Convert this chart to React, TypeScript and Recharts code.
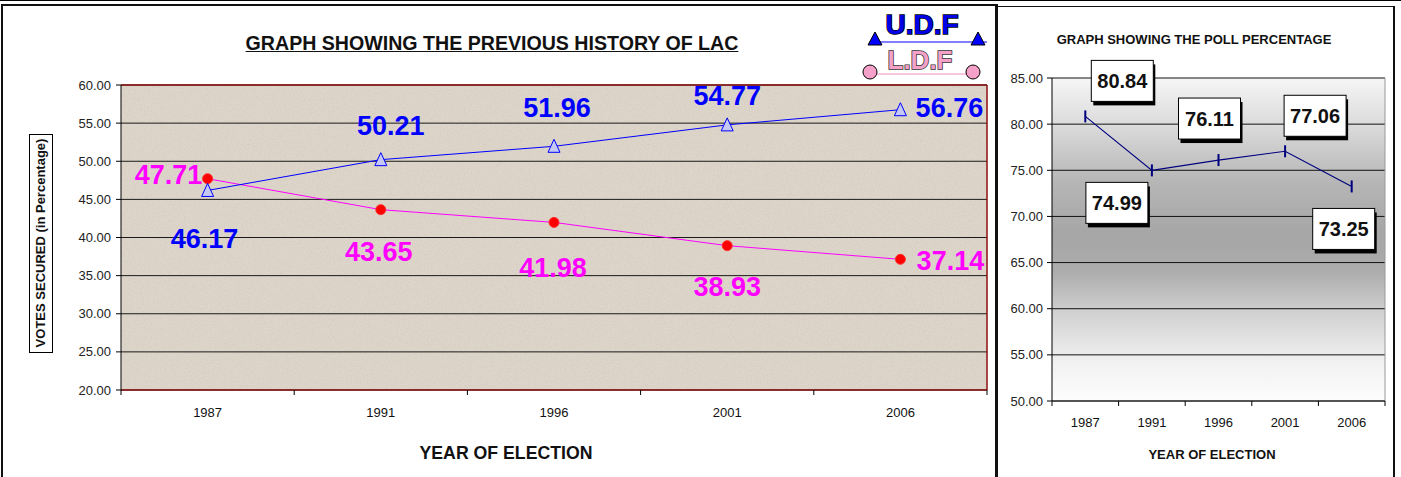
import { LineChart, Line, XAxis, YAxis, CartesianGrid, ReferenceLine } from 'recharts'

const years = ['1987', '1991', '1996', '2001', '2006']
const udfVotes = [46.17, 50.21, 51.96, 54.77, 56.76]
const ldfVotes = [47.71, 43.65, 41.98, 38.93, 37.14]
const pollPercent = [80.84, 74.99, 76.11, 77.06, 73.25]
const voteTicks = [20, 25, 30, 35, 40, 45, 50, 55, 60]
const pollTicks = [50, 55, 60, 65, 70, 75, 80, 85]

const voteData = years.map((year, i) => ({ year, udf: udfVotes[i], ldf: ldfVotes[i] }))
const pollData = years.map((year, i) => ({ year, poll: pollPercent[i] }))

// where each value label sits relative to its point (dx, dy)
const udfLabelOffset = [[-3, 49], [10, -34], [3, -38], [0, -29], [49, -2]]
const ldfLabelOffset = [[-39, -4], [-2, 42], [-1, 46], [0, 41], [50, 2]]
const pollLabelOffset = [[37, -36], [-35, 32], [-9, -42], [30, -36], [-8, 42]]

const FONT = "Arial, 'Liberation Sans', sans-serif"

function yearTick(half: number, labelGap: number) {
  return (props: any) => {
    const { x, y, payload, index } = props
    return (
      <g>
        <line x1={x - half} x2={x - half} y1={y} y2={y + 5} stroke="#000" />
        {index === years.length - 1 && <line x1={x + half} x2={x + half} y1={y} y2={y + 5} stroke="#000" />}
        <text x={x} y={y + labelGap} textAnchor="middle" dominantBaseline="central" fontSize={13} fill="#111" fontFamily={FONT}>
          {payload.value}
        </text>
      </g>
    )
  }
}

function valueLabel(offsets: number[][], color: string) {
  return (props: any) => {
    const { x, y, index, value } = props
    const [dx, dy] = offsets[index]
    return (
      <text x={x + dx} y={y + dy} textAnchor="middle" dominantBaseline="central" fontSize={27} fontWeight="bold" fill={color} fontFamily={FONT}>
        {Number(value).toFixed(2)}
      </text>
    )
  }
}

function pollLabel(props: any) {
  const { x, y, index, value } = props
  const [dx, dy] = pollLabelOffset[index]
  const cx = x + dx
  const cy = y + dy
  return (
    <g>
      <rect x={cx - 29} y={cy - 16} width={62} height={41} fill="#000" />
      <rect x={cx - 31} y={cy - 20} width={62} height={41} fill="#fff" stroke="#000" strokeWidth={1} />
      <text x={cx} y={cy + 1} textAnchor="middle" dominantBaseline="central" fontSize={20} fontWeight="bold" fill="#111" fontFamily={FONT}>
        {Number(value).toFixed(2)}
      </text>
    </g>
  )
}

function TriangleDot(props: any) {
  const { cx, cy } = props
  return <polygon points={`${cx},${cy - 7} ${cx - 6},${cy + 6} ${cx + 6},${cy + 6}`} fill="#c4c8f2" stroke="#0000ff" strokeWidth={1} />
}

function CircleDot(props: any) {
  const { cx, cy } = props
  return <circle cx={cx} cy={cy} r={5} fill="#ff0000" stroke="#ff3030" />
}

function DashDot(props: any) {
  const { cx, cy } = props
  return <line x1={cx} x2={cx} y1={cy - 6} y2={cy + 6} stroke="#00007f" strokeWidth={2} />
}

function Logo() {
  return (
    <svg width={140} height={80} style={{ position: 'absolute', left: 860, top: 5 }}>
      <line x1={17} x2={127} y1={37} y2={37} stroke="#0000ff" strokeWidth={1} />
      <polygon points="15,27 8,40 22,40" fill="#0000ff" stroke="#000" />
      <polygon points="118,27 111,40 125,40" fill="#0000ff" stroke="#000" />
      <text x={62} y={29} textAnchor="middle" fontSize={28} fontWeight="bold" fill="#0000e6" stroke="#000" strokeWidth={1.5} paintOrder="stroke" fontFamily={FONT}>
        U.D.F
      </text>
      <line x1={12} x2={115} y1={69} y2={69} stroke="#f090c0" strokeWidth={1} />
      <circle cx={10} cy={67} r={7} fill="#f4a0c8" stroke="#000" />
      <circle cx={113} cy={67} r={7} fill="#f4a0c8" stroke="#000" />
      <text x={60} y={64} textAnchor="middle" fontSize={26} fontWeight="bold" fill="#f4a0c8" stroke="#303030" strokeWidth={1.5} paintOrder="stroke" fontFamily={FONT}>
        L.D.F
      </text>
    </svg>
  )
}

export default function App() {
  return (
    <div style={{ position: 'fixed', left: 0, top: 0, width: 1401, height: 477, background: '#fff', overflow: 'hidden', fontFamily: FONT }}>
      <div style={{ position: 'absolute', left: 0, top: 0, width: 1401, height: 1, background: '#000' }} />
      <div style={{ position: 'absolute', left: 1, top: 4, width: 993, height: 490, borderTop: '2px solid #111', borderLeft: '2px solid #111', borderRight: '2px solid #111' }} />
      <div style={{ position: 'absolute', left: 995, top: 6, width: 397, height: 490, borderTop: '1px solid #111', borderLeft: '1px solid #111', borderRight: '2px solid #111' }} />

      <div style={{ position: 'absolute', left: 0, top: 0 }}>
        <LineChart width={995} height={477} data={voteData} margin={{ top: 85, right: 8, bottom: 57, left: 61 }}>
          <defs>
            <filter id="grain" x="0" y="0" width="100%" height="100%">
              <feTurbulence type="fractalNoise" baseFrequency="0.7" numOctaves="3" seed="4" />
              <feColorMatrix type="matrix" values="0 0 0 0 0.55  0 0 0 0 0.50  0 0 0 0 0.43  2.2 0 0 0 -0.95" />
            </filter>
            <pattern id="sand" width="400" height="320" patternUnits="userSpaceOnUse">
              <rect width="400" height="320" fill="#ddd5c9" />
              <rect width="400" height="320" filter="url(#grain)" opacity={0.35} />
            </pattern>
          </defs>
          <CartesianGrid vertical={false} stroke="#1a1a1a" fill="url(#sand)" fillOpacity={1} />
          <CartesianGrid horizontal={false} verticalPoints={[987]} stroke="#8b1010" strokeWidth={1.5} />
          <ReferenceLine y={60} stroke="#8b1010" strokeWidth={1.5} />
          <ReferenceLine y={20} stroke="#8b1010" strokeWidth={1.5} />
          <XAxis dataKey="year" height={30} padding={{ left: 86.6, right: 86.6 }} tickLine={false} axisLine={false} tickSize={0} tickMargin={0} tick={yearTick(86.6, 22)} interval={0} />
          <YAxis
            width={60}
            domain={[20, 60]}
            ticks={voteTicks}
            tickFormatter={(v: number) => v.toFixed(2)}
            axisLine={{ stroke: '#000' }}
            tickLine={{ stroke: '#000' }}
            tickSize={5}
            tickMargin={5}
            tick={{ fontSize: 13, fill: '#222', fontFamily: FONT }}
          />
          <Line dataKey="ldf" stroke="#ff00ff" strokeWidth={1} isAnimationActive={false} dot={(p: any) => <CircleDot key={`l${p.index}`} {...p} />} label={valueLabel(ldfLabelOffset, '#ff00ff')} />
          <Line dataKey="udf" stroke="#0000ff" strokeWidth={1} isAnimationActive={false} dot={(p: any) => <TriangleDot key={`u${p.index}`} {...p} />} label={valueLabel(udfLabelOffset, '#0000ff')} />
        </LineChart>
      </div>

      <div style={{ position: 'absolute', left: 192, top: 31, width: 600, textAlign: 'center', fontSize: 19.6, fontWeight: 'bold', textDecoration: 'underline', lineHeight: '24px', color: '#111' }}>
        GRAPH SHOWING THE PREVIOUS HISTORY OF LAC
      </div>
      <div style={{ position: 'absolute', left: 306, top: 442, width: 400, textAlign: 'center', fontSize: 17.7, fontWeight: 'bold', lineHeight: '22px', color: '#111' }}>
        YEAR OF ELECTION
      </div>
      <div style={{ position: 'absolute', left: 29, top: 134, width: 22, height: 217, border: '1px solid #000' }}>
        <div style={{ position: 'absolute', left: 11, top: 108, width: 230, marginLeft: -115, marginTop: -8, transform: 'rotate(-90deg)', textAlign: 'center', fontSize: 13, fontWeight: 'bold', lineHeight: '16px', whiteSpace: 'nowrap', color: '#111' }}>
          VOTES SECURED (in Percentage)
        </div>
      </div>
      <Logo />

      <div style={{ position: 'absolute', left: 996, top: 0 }}>
        <LineChart width={405} height={477} data={pollData} margin={{ top: 78, right: 16, bottom: 46, left: 6 }}>
          <defs>
            <linearGradient id="pollBg" x1="0" y1="0" x2="0" y2="1">
              <stop offset="0%" stopColor="#f6f6f6" />
              <stop offset="15%" stopColor="#dadada" />
              <stop offset="32%" stopColor="#b6b6b6" />
              <stop offset="48%" stopColor="#a6a6a6" />
              <stop offset="60%" stopColor="#acacac" />
              <stop offset="73%" stopColor="#d2d2d2" />
              <stop offset="88%" stopColor="#f1f1f1" />
              <stop offset="100%" stopColor="#fdfdfd" />
            </linearGradient>
          </defs>
          <CartesianGrid vertical={false} stroke="#111" fill="url(#pollBg)" fillOpacity={1} />
          <CartesianGrid horizontal={false} verticalPoints={[389]} stroke="#999" />
          <XAxis dataKey="year" height={30} padding={{ left: 33.3, right: 33.3 }} tickLine={false} axisLine={{ stroke: '#222' }} tickSize={0} tickMargin={0} tick={yearTick(33.3, 21)} interval={0} />
          <YAxis
            width={50}
            domain={[50, 85]}
            ticks={pollTicks}
            tickFormatter={(v: number) => v.toFixed(2)}
            axisLine={{ stroke: '#000' }}
            tickLine={{ stroke: '#000' }}
            tickSize={5}
            tickMargin={4}
            tick={{ fontSize: 13, fill: '#222', fontFamily: FONT }}
          />
          <Line dataKey="poll" stroke="#00007f" strokeWidth={1.2} isAnimationActive={false} dot={(p: any) => <DashDot key={`p${p.index}`} {...p} />} label={pollLabel} />
        </LineChart>
      </div>

      <div style={{ position: 'absolute', left: 1044, top: 32, width: 300, textAlign: 'center', fontSize: 13, fontWeight: 'bold', lineHeight: '16px', color: '#111' }}>
        GRAPH SHOWING THE POLL PERCENTAGE
      </div>
      <div style={{ position: 'absolute', left: 1112, top: 447, width: 200, textAlign: 'center', fontSize: 13, fontWeight: 'bold', lineHeight: '16px', color: '#111' }}>
        YEAR OF ELECTION
      </div>
    </div>
  )
}
